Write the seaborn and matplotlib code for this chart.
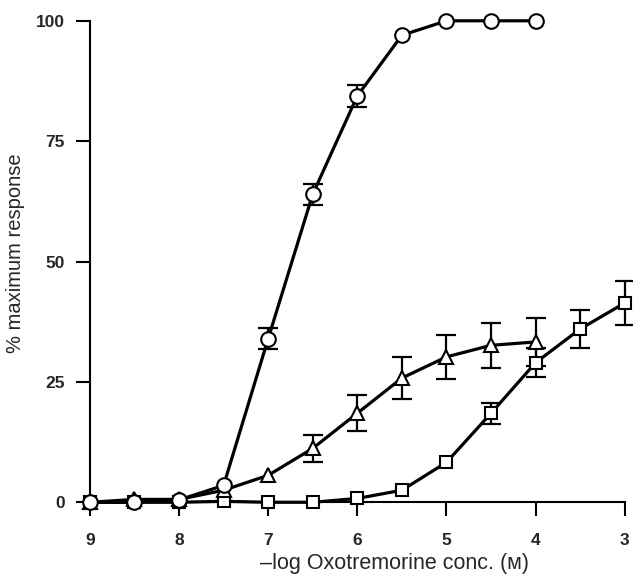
import numpy as np
import pandas as pd
import matplotlib
matplotlib.use("Agg")
import matplotlib.pyplot as plt
import seaborn as sns

# ---- data ----
x_circle = [9, 8.5, 8, 7.5, 7, 6.5, 6, 5.5, 5, 4.5, 4]
y_circle = [0, 0, 0.5, 3.5, 34, 64, 84.4, 97, 100, 100, 100]
e_circle = [0, 0, 0, 0, 2.2, 2.2, 2.3, 0, 0, 0, 0]

x_tri = [9, 8.5, 8, 7.5, 7, 6.5, 6, 5.5, 5, 4.5, 4]
y_tri = [0, 0.6, 0.6, 2.5, 5.6, 11.2, 18.5, 25.8, 30.2, 32.6, 33.3]
e_tri = [0, 0, 0, 0, 0, 2.8, 3.7, 4.3, 4.5, 4.7, 5.0]

x_sq = [9, 8.5, 8, 7.5, 7, 6.5, 6, 5.5, 5, 4.5, 4, 3.5, 3]
y_sq = [0, 0, 0, 0.2, 0, 0, 0.8, 2.5, 8.3, 18.5, 29, 36, 41.4]
e_sq = [0, 0, 0, 0, 0, 0, 0, 0, 0, 2.2, 3.0, 3.9, 4.5]

x_ticks = [9, 8, 7, 6, 5, 4, 3]
y_ticks = [0, 25, 50, 75, 100]

sns.set_theme(style="white")
plt.rcParams['font.family'] = ['Liberation Sans', 'DejaVu Sans']

fig = plt.figure(figsize=(6.33, 5.78), dpi=100)
ax = fig.add_axes([0.142, 0.131, 0.845, 0.833])

series = [
    (x_sq, y_sq, e_sq, 's', 9),
    (x_tri, y_tri, e_tri, '^', 10),
    (x_circle, y_circle, e_circle, 'o', 10.5),
]

for i, (xs, ys, es, mk, ms) in enumerate(series):
    df = pd.DataFrame({"x": xs, "y": ys, "e": es})
    sns.lineplot(data=df, x="x", y="y", ax=ax, color="black", linewidth=2.3,
                 zorder=2 + i * 0.1, clip_on=False)
    sub = df[df.e > 0]
    ax.errorbar(sub.x, sub.y, yerr=sub.e, fmt='none', ecolor='black',
                elinewidth=1.6, capsize=7, capthick=1.6, zorder=3 + i * 0.1,
                clip_on=False)
    ax.plot(xs, ys, linestyle='none', marker=mk, markersize=ms,
            markerfacecolor='white', markeredgecolor='black',
            markeredgewidth=1.5, zorder=4 + i * 0.1, clip_on=False)

ax.set_xlim(9, 3)
ax.set_ylim(0, 100)
ax.set_xticks(x_ticks)
ax.set_yticks(y_ticks)
ax.set_xticklabels([str(t) for t in x_ticks], fontsize=12.5, fontweight='bold')
ax.set_yticklabels([str(t) for t in y_ticks], fontsize=12.5, fontweight='bold')

for s in ['top', 'right']:
    ax.spines[s].set_visible(False)
for s in ['left', 'bottom']:
    ax.spines[s].set_color('black')
    ax.spines[s].set_linewidth(1.5)
ax.tick_params(axis='both', direction='out', length=10, width=1.5,
               color='black', bottom=True, left=True)
ax.tick_params(axis='x', pad=12)
ax.tick_params(axis='y', pad=8)

ax.set_xlabel("\u2013log Oxotremorine conc. (\u1d0d)", fontsize=15.5)
ax.set_ylabel("% maximum response", fontsize=14.5)
ax.xaxis.set_label_coords(0.570, -0.106)
ax.yaxis.set_label_coords(-0.122, 0.518)

fig.savefig("out.png", dpi=100)
